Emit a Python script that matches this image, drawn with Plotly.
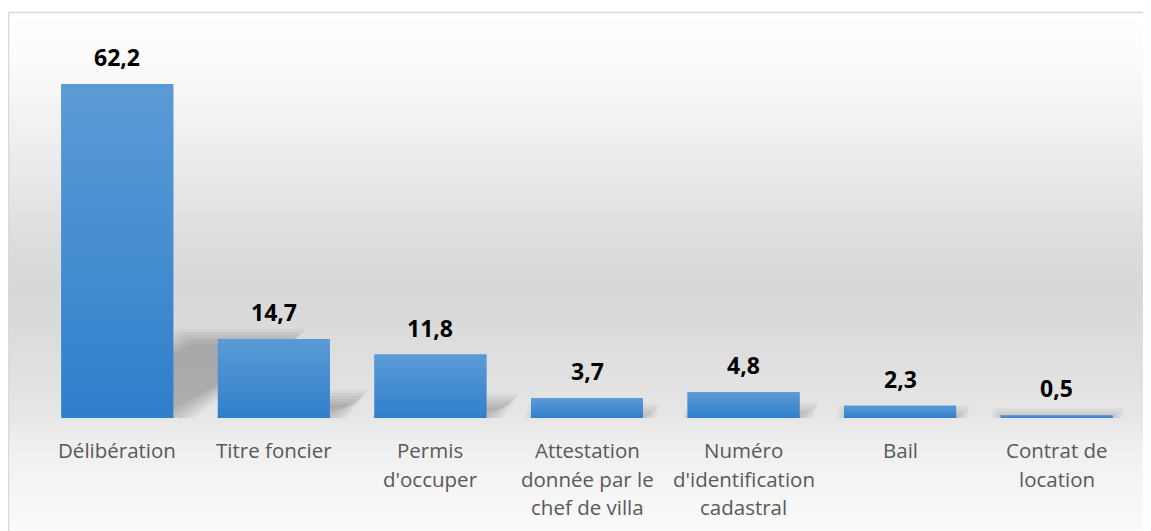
import numpy as np
import plotly.graph_objects as go

# ---------------- data ----------------
CATEGORIES = ["Délibération", "Titre foncier", "Permis d'occuper",
              "Attestation donnée par le chef de villa",
              "Numéro d'identification cadastral", "Bail", "Contrat de location"]
LABEL_LINES = [["Délibération"], ["Titre foncier"], ["Permis", "d'occuper"],
               ["Attestation", "donnée par le", "chef de villa"],
               ["Numéro", "d'identification", "cadastral"], ["Bail"],
               ["Contrat de", "location"]]
VALUES = [62.2, 14.7, 11.8, 3.7, 4.8, 2.3, 0.5]
VALUE_LABELS = ["62,2", "14,7", "11,8", "3,7", "4,8", "2,3", "0,5"]

# ---------------- layout constants ----------------
W, H = 1151, 531
OFF = 8                      # page offset of the figure (body margin)
PW, PH = 1096, 376
ML, MT = 39 - OFF, 42 - OFF
MR, MB = W - ML - PW, H - MT - PH
YMAX = 70
BAR_W = 0.715
N = len(VALUES)
UX = N / PW          # x data units per px
UY = YMAX / PH       # y data units per px
FONT = "Open Sans"


def px_to_paper_x(px):
    """px given in page (reference) coordinates"""
    return (px - OFF - ML) / PW


def px_to_paper_y(py):
    return (MT + PH - (py - OFF)) / PH


idx = list(range(N))
fig = go.Figure()

shapes = []
# background gradient (chart area)
stops_y = [13, 60, 120, 180, 240, 285, 320, 370, 418, 440, 480, 531]
stops_g = [255, 251, 242, 232, 221, 216, 218, 224, 230, 238, 244, 250]
step = 3
for y0 in range(13, H + OFF, step):
    y1 = y0 + step
    g = int(round(np.interp((y0 + y1) / 2, stops_y, stops_g)))
    shapes.append(dict(type="rect", xref="paper", yref="paper",
                       x0=px_to_paper_x(9), x1=px_to_paper_x(W + OFF + 4),
                       y0=px_to_paper_y(y1 + 0.5), y1=px_to_paper_y(y0),
                       fillcolor=f"rgb({g},{g},{g})", line=dict(width=0),
                       layer="below"))

# perspective shadows behind bars
for i, v in enumerate(VALUES):
    x0, x1 = i - BAR_W / 2, i + BAR_W / 2
    r = 0.24 * v
    r_px = r / UY
    s = 1.56 * r_px * UX
    for e in [9, 6, 3, 0, -3, -6]:
        if r_px + 2 * e <= 1:
            continue
        ex, ey = e * UX, e * UY
        pts = [(x0 - ex, -ey), (x1 + ex, -ey), (x1 + s + ex, r + ey), (x0 + s - ex, r + ey)]
        path = "M " + " L ".join(f"{px:.4f},{py:.4f}" for px, py in pts) + " Z"
        shapes.append(dict(type="path", xref="x", yref="y", path=path,
                           fillcolor="rgba(0,0,0,0.042)", line=dict(width=0),
                           layer="below"))

# chart border (top and left visible)
shapes.append(dict(type="line", xref="paper", yref="paper",
                   x0=px_to_paper_x(8.5), x1=px_to_paper_x(W + OFF + 4),
                   y0=px_to_paper_y(12.5), y1=px_to_paper_y(12.5),
                   line=dict(color="#d9d9d9", width=1.5)))
shapes.append(dict(type="line", xref="paper", yref="paper",
                   x0=px_to_paper_x(8.5), x1=px_to_paper_x(8.5),
                   y0=px_to_paper_y(12.5), y1=px_to_paper_y(H + OFF + 4),
                   line=dict(color="#d9d9d9", width=1.5)))

# bars
fig.add_trace(go.Bar(x=idx, y=VALUES, width=BAR_W, marker_color="#4a8fd4",
                     marker_line_width=0, hoverinfo="skip", showlegend=False))

# vertical gradient overlay for each bar
for i, v in enumerate(VALUES):
    x0, x1 = i - BAR_W / 2, i + BAR_W / 2
    fig.add_trace(go.Scatter(
        x=[x0, x1, x1, x0, x0], y=[0, 0, v, v, 0], mode="none", fill="toself",
        fillgradient=dict(type="vertical", start=0, stop=v,
                          colorscale=[[0, "#2f7fcc"], [1, "#5b9bd5"]]),
        hoverinfo="skip", showlegend=False))

annotations = []
for i, (v, lab) in enumerate(zip(VALUES, VALUE_LABELS)):
    annotations.append(dict(x=i, y=v, xref="x", yref="y", text=lab,
                            showarrow=False, yanchor="middle", yshift=27,
                            font=dict(family=FONT, size=23, color="#000000",
                                      weight="bold")))
for i, lines in enumerate(LABEL_LINES):
    for k, line in enumerate(lines):
        annotations.append(dict(x=i, y=0, xref="x", yref="y", text=line,
                                showarrow=False, yanchor="middle",
                                yshift=-(32 + 28.5 * k),
                                font=dict(family=FONT, size=20.5, color="#595959")))

fig.update_layout(
    width=W, height=H,
    margin=dict(l=ML, r=MR, t=MT, b=MB, pad=0),
    paper_bgcolor="#ffffff", plot_bgcolor="rgba(0,0,0,0)",
    bargap=0.285,
    shapes=shapes, annotations=annotations,
    xaxis=dict(range=[-0.5, N - 0.5], showticklabels=False, showgrid=False,
               zeroline=False, showline=False, ticks="",
               tickvals=idx, ticktext=CATEGORIES),
    yaxis=dict(range=[0, YMAX], showticklabels=False, showgrid=False,
               zeroline=False, showline=False, ticks=""),
    showlegend=False,
)

fig.write_html("out.html")
